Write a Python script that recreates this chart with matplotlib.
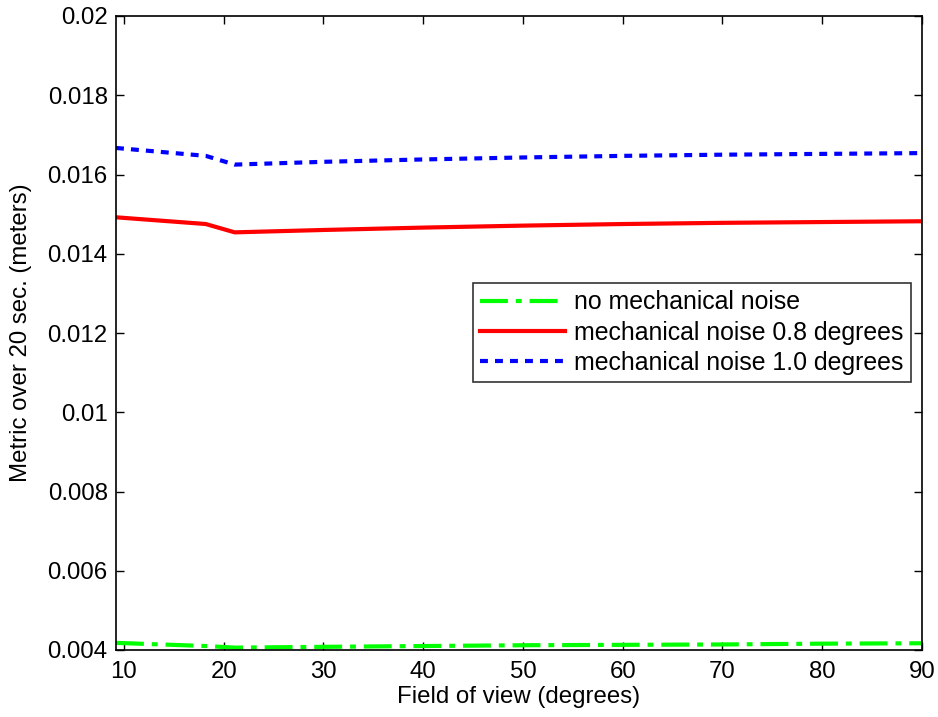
import matplotlib
matplotlib.use("Agg")
import matplotlib.pyplot as plt

fov = [9.2, 18.2, 21.1, 30, 40, 50, 60, 70, 80, 90]
no_noise = [0.00418, 0.00410, 0.00406, 0.00408, 0.00410, 0.00412, 0.00413, 0.00414, 0.00416, 0.00417]
noise_08 = [0.01492, 0.01475, 0.01454, 0.01460, 0.01466, 0.01471, 0.01475, 0.01478, 0.01480, 0.01482]
noise_10 = [0.01667, 0.01647, 0.01625, 0.01632, 0.01638, 0.01643, 0.01647, 0.01650, 0.01652, 0.01654]

xticks = [10, 20, 30, 40, 50, 60, 70, 80, 90]
yticks = [0.004, 0.006, 0.008, 0.01, 0.012, 0.014, 0.016, 0.018, 0.02]
ytick_labels = ["0.004", "0.006", "0.008", "0.01", "0.012", "0.014", "0.016", "0.018", "0.02"]

plt.rcParams['font.family'] = ['Liberation Sans', 'DejaVu Sans']
FS = 17.3

fig = plt.figure(figsize=(9.38, 7.17), dpi=100)
ax = fig.add_axes([116/938, 1 - 650/717, (922-116)/938, (650-16)/717])

ax.plot(fov, no_noise, color='#00ff00', lw=3, dashes=(6.7, 1.9, 1.4, 1.9),
        dash_capstyle='butt', label='no mechanical noise')
ax.plot(fov, noise_08, color='#ff0000', lw=3, label='mechanical noise 0.8 degrees')
ax.plot(fov, noise_10, color='#0000ff', lw=3, dashes=(1.9, 1.7),
        dash_capstyle='butt', label='mechanical noise 1.0 degrees')

ax.set_xlim(9.2, 90)
ax.set_ylim(0.004, 0.02)
ax.set_xticks(xticks)
ax.set_yticks(yticks)
ax.set_yticklabels(ytick_labels)
ax.tick_params(direction='in', top=True, right=True, labelsize=FS, length=6, width=1)
ax.tick_params(axis='x', pad=8)
ax.tick_params(axis='y', pad=6)
for s in ax.spines.values():
    s.set_linewidth(1.2)

ax.set_xlabel('Field of view (degrees)', fontsize=FS)
ax.set_ylabel('Metric over 20 sec. (meters)', fontsize=FS)
ax.xaxis.set_label_coords(0.5, (650-686)/634)
ax.yaxis.set_label_coords((32-116)/806, 0.5)

leg = ax.legend(loc='upper left', bbox_to_anchor=((473-116)/806, 1 - (283-16)/634),
                fontsize=17.9, frameon=True, fancybox=False, edgecolor='black',
                handlelength=3.4, handletextpad=0.35, borderpad=0.3, labelspacing=0.25,
                borderaxespad=0)
leg.get_frame().set_linewidth(1.2)

fig.savefig('out.png', dpi=100)
